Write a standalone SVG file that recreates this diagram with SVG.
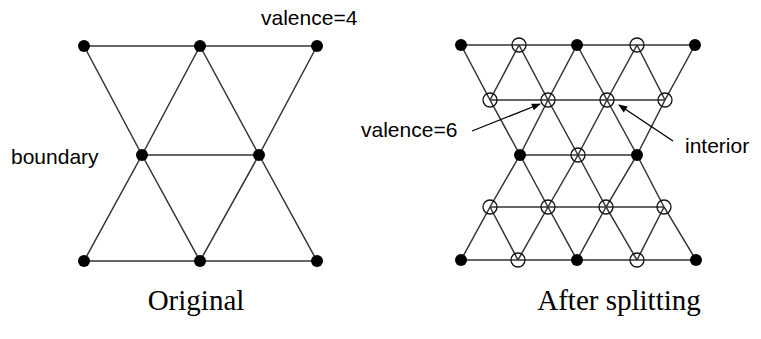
<svg xmlns="http://www.w3.org/2000/svg" width="761" height="339" viewBox="0 0 761 339">
<style>
.e{fill:none;stroke:#333;stroke-width:1.5}
.f{fill:#000}
.o{fill:none;stroke:#111;stroke-width:1.3}
.t{font-family:"Liberation Sans",Arial,sans-serif;font-size:21px;fill:#000}
.c{font-family:"Liberation Serif","Times New Roman",serif;font-size:29px;fill:#000;text-anchor:middle}
.a{fill:none;stroke:#000;stroke-width:1.3}
</style>
<defs>
<marker id="ah" viewBox="0 0 10 10" refX="9" refY="5" markerWidth="10" markerHeight="9" markerUnits="userSpaceOnUse" orient="auto">
<path d="M0,1 L10,5 L0,9 Z" fill="#000"/>
</marker>
</defs>
<rect width="761" height="339" fill="#fff"/>
<g id="connectors">
<polyline class="e" points="84,46 317,46"/>
<polyline class="e" points="142,155 259,155"/>
<polyline class="e" points="84,261 317,261"/>
<polyline class="e" points="84,46 142,155 200,261"/>
<polyline class="e" points="200,46 142,155 84,261"/>
<polyline class="e" points="200,46 259,155 317,261"/>
<polyline class="e" points="317,46 259,155 200,261"/>
<polyline class="e" points="461,45 695,45"/>
<polyline class="e" points="490,100 665,100"/>
<polyline class="e" points="520,155 637,155"/>
<polyline class="e" points="490,207 664,207"/>
<polyline class="e" points="461,260 696,260"/>
<polyline class="e" points="461,45 490,100 520,155 548,207 577,260"/>
<polyline class="e" points="519,45 548,100 578,155 606,207 637,260"/>
<polyline class="e" points="577,45 607,100 637,155 664,207 696,260"/>
<polyline class="e" points="637,45 665,100"/>
<polyline class="e" points="490,207 518,260"/>
<polyline class="e" points="461,260 490,207 520,155 548,100 577,45"/>
<polyline class="e" points="518,260 548,207 578,155 607,100 637,45"/>
<polyline class="e" points="577,260 606,207 637,155 665,100 695,45"/>
<polyline class="e" points="490,100 519,45"/>
<polyline class="e" points="637,260 664,207"/>
<line class="a" x1="472" y1="131" x2="540" y2="104" marker-end="url(#ah)"/>
<line class="a" x1="673" y1="141" x2="619" y2="105" marker-end="url(#ah)"/>
</g>
<g id="left-nodes">
<g id="L1"><circle class="f" cx="84" cy="46" r="6"/></g>
<g id="L2"><circle class="f" cx="200" cy="46" r="6"/></g>
<g id="L3"><circle class="f" cx="317" cy="46" r="6"/></g>
<g id="L4"><circle class="f" cx="142" cy="155" r="6"/></g>
<g id="L5"><circle class="f" cx="259" cy="155" r="6"/></g>
<g id="L6"><circle class="f" cx="84" cy="261" r="6"/></g>
<g id="L7"><circle class="f" cx="200" cy="261" r="6"/></g>
<g id="L8"><circle class="f" cx="317" cy="261" r="6"/></g>
</g>
<g id="right-nodes">
<g id="R11"><circle class="f" cx="461" cy="45" r="6"/></g>
<g id="R12"><circle class="o" cx="519" cy="45" r="7"/></g>
<g id="R13"><circle class="f" cx="577" cy="45" r="6"/></g>
<g id="R14"><circle class="o" cx="637" cy="45" r="7"/></g>
<g id="R15"><circle class="f" cx="695" cy="45" r="6"/></g>
<g id="R21"><circle class="o" cx="490" cy="100" r="7"/></g>
<g id="R22"><circle class="o" cx="548" cy="100" r="7"/></g>
<g id="R23"><circle class="o" cx="607" cy="100" r="7"/></g>
<g id="R24"><circle class="o" cx="665" cy="100" r="7"/></g>
<g id="R31"><circle class="f" cx="520" cy="155" r="6"/></g>
<g id="R32"><circle class="o" cx="578" cy="155" r="7"/></g>
<g id="R33"><circle class="f" cx="637" cy="155" r="6"/></g>
<g id="R41"><circle class="o" cx="490" cy="207" r="7"/></g>
<g id="R42"><circle class="o" cx="548" cy="207" r="7"/></g>
<g id="R43"><circle class="o" cx="606" cy="207" r="7"/></g>
<g id="R44"><circle class="o" cx="664" cy="207" r="7"/></g>
<g id="R51"><circle class="f" cx="461" cy="260" r="6"/></g>
<g id="R52"><circle class="o" cx="518" cy="260" r="7"/></g>
<g id="R53"><circle class="f" cx="577" cy="260" r="6"/></g>
<g id="R54"><circle class="o" cx="637" cy="260" r="7"/></g>
<g id="R55"><circle class="f" cx="696" cy="260" r="6"/></g>
</g>
<g id="labels">
<text class="t" x="261" y="25">valence=4</text>
<text class="t" x="11" y="164">boundary</text>
<text class="t" x="361" y="137">valence=6</text>
<text class="t" x="685" y="153">interior</text>
<text class="c" x="196" y="310">Original</text>
<text class="c" x="619" y="310">After splitting</text>
</g>
</svg>
